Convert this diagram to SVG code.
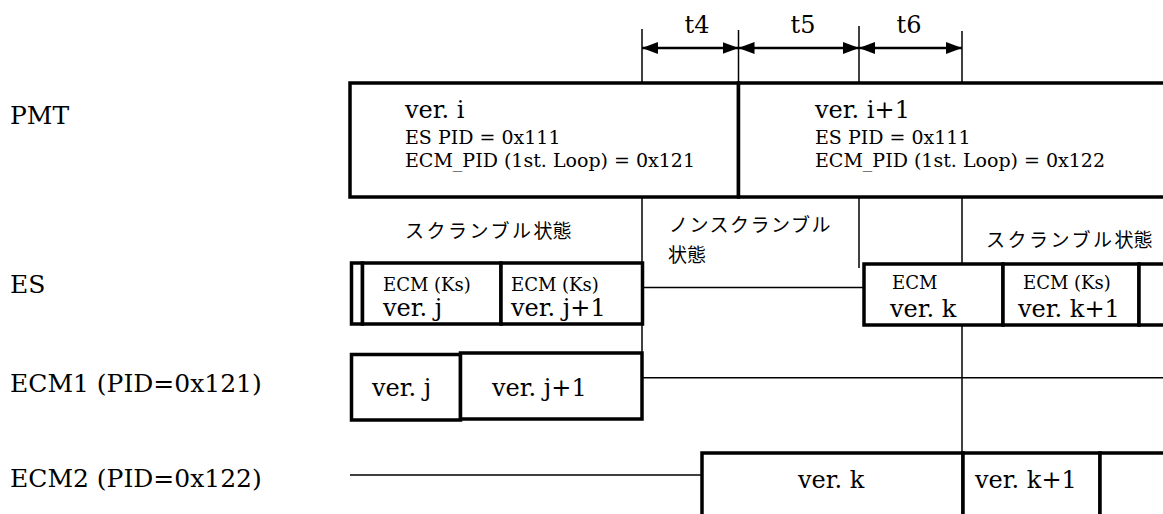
<svg xmlns="http://www.w3.org/2000/svg" width="1163" height="514" viewBox="0 0 1163 514">
<style>
text{font-family:"DejaVu Serif","Liberation Serif",serif;fill:#000}
.lbl{font-size:25px}
.ver{font-size:24px}
.sm{font-size:19px}
.es{font-size:18px}
.jp{font-family:"Noto Sans CJK JP","Noto Sans CJK SC",sans-serif;font-size:19px}
.box{fill:#fff;stroke:#000;stroke-width:3.5}
.thin{stroke:#000;stroke-width:1.5;fill:none}
.dim{stroke:#000;stroke-width:2.5;fill:none;marker-start:url(#ah);marker-end:url(#ah)}
</style>
<defs>
<marker id="ah" viewBox="0 0 16 12" refX="16" refY="6" markerWidth="16" markerHeight="12" markerUnits="userSpaceOnUse" orient="auto-start-reverse">
<path d="M0,0 L16,6 L0,12 z" fill="#000"/>
</marker>
</defs>
<rect width="1163" height="514" fill="#fff"/>

<g id="connectors">
<line class="thin" x1="642" y1="29" x2="642" y2="353"/>
<line class="thin" x1="738.5" y1="30" x2="738.5" y2="83"/>
<line class="thin" x1="859" y1="26" x2="859" y2="268"/>
<line class="thin" x1="962" y1="31" x2="962" y2="453"/>
<line class="thin" x1="643" y1="287.5" x2="864" y2="287.5"/>
<line class="thin" x1="642" y1="377.8" x2="1163" y2="377.8"/>
<line class="thin" x1="350" y1="475" x2="702" y2="475"/>
<line class="dim" x1="642" y1="48" x2="738.5" y2="48"/>
<line class="dim" x1="738.5" y1="48" x2="859" y2="48"/>
<line class="dim" x1="859" y1="48" x2="962" y2="48"/>
<text class="ver" x="697" y="33" text-anchor="middle">t4</text>
<text class="ver" x="803" y="33" text-anchor="middle">t5</text>
<text class="ver" x="909" y="33" text-anchor="middle">t6</text>
</g>

<g id="labels">
<text class="lbl" x="10" y="124">PMT</text>
<text class="lbl" x="10" y="293">ES</text>
<text class="lbl" x="10" y="392">ECM1 (PID=0x121)</text>
<text class="lbl" x="10" y="487">ECM2 (PID=0x122)</text>
</g>

<g id="pmt_i">
<rect class="box" x="350" y="83" width="388.5" height="114"/>
<text class="ver" x="405" y="118">ver. i</text>
<text class="sm" x="405" y="144">ES PID = 0x111</text>
<text class="sm" x="405" y="167">ECM_PID (1st. Loop) = 0x121</text>
</g>
<g id="pmt_i1">
<rect class="box" x="738.5" y="83" width="440" height="114"/>
<text class="ver" x="815" y="118">ver. i+1</text>
<text class="sm" x="815" y="144">ES PID = 0x111</text>
<text class="sm" x="815" y="167">ECM_PID (1st. Loop) = 0x122</text>
</g>

<g id="es_left">
<rect class="box" x="351.5" y="263" width="11" height="61"/>
<rect class="box" x="362.5" y="263" width="138.5" height="61"/>
<rect class="box" x="501" y="263" width="141.5" height="61"/>
<text class="es" x="383" y="291">ECM (Ks)</text>
<text class="ver" x="383" y="316">ver. j</text>
<text class="es" x="511" y="291">ECM (Ks)</text>
<text class="ver" x="511" y="316">ver. j+1</text>
<text class="jp" x="405" y="238"><tspan letter-spacing="2.5">スクランブル</tspan>状態</text>
</g>
<g id="nonscramble">
<text class="jp" x="669" y="232" letter-spacing="1.5">ノンスクランブル</text>
<text class="jp" x="668" y="262">状態</text>
</g>
<g id="es_right">
<rect class="box" x="864" y="264" width="139" height="61"/>
<rect class="box" x="1003" y="264" width="136" height="61"/>
<rect class="box" x="1139" y="264" width="40" height="61"/>
<text class="es" x="892" y="289">ECM</text>
<text class="ver" x="890" y="317">ver. k</text>
<text class="es" x="1023" y="289">ECM (Ks)</text>
<text class="ver" x="1018" y="317">ver. k+1</text>
<text class="jp" x="986" y="247"><tspan letter-spacing="2.5">スクランブル</tspan>状態</text>
</g>

<g id="ecm1">
<rect class="box" x="351.5" y="354.5" width="109" height="65.5"/>
<rect class="box" x="460.5" y="353" width="181.5" height="66"/>
<text class="ver" x="372" y="396">ver. j</text>
<text class="ver" x="492" y="396">ver. j+1</text>
</g>

<g id="ecm2">
<rect class="box" x="702" y="453" width="261" height="80"/>
<rect class="box" x="963" y="453" width="137" height="80"/>
<rect class="box" x="1100" y="453" width="80" height="80"/>
<text class="ver" x="798" y="488">ver. k</text>
<text class="ver" x="975" y="488">ver. k+1</text>
</g>
</svg>
